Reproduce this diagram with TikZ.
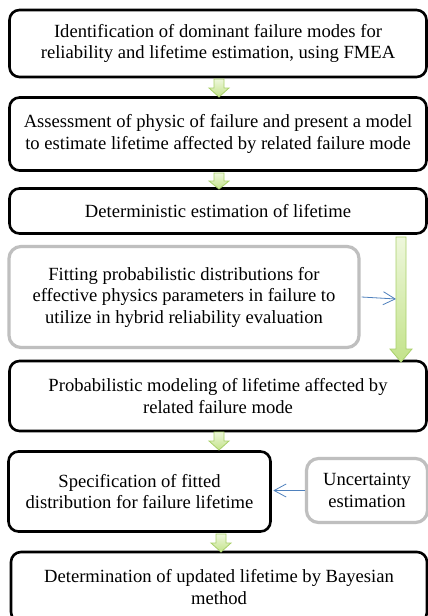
\documentclass[tikz,border=0pt]{standalone}
\usepackage{fontspec}
\setmainfont{Liberation Serif}
\usetikzlibrary{arrows.meta}
\definecolor{gbord}{HTML}{BFBFBF}
\definecolor{barrow}{HTML}{4F81BD}
\definecolor{agreenT}{HTML}{EEF7DC}
\definecolor{agreenB}{HTML}{C3E38A}
\definecolor{agreenD}{HTML}{A9D06A}
\tikzset{
  blk/.style={draw=black, line width=2.6pt, rounded corners=10pt, fill=white, align=center, inner sep=0pt,
    font=\fontsize{18.6}{21.5}\selectfont},
  gry/.style={draw=gbord, line width=3.2pt, rounded corners=12pt, fill=white, align=center, inner sep=0pt,
    font=\fontsize{18.6}{21.5}\selectfont},
  blue/.style={draw=barrow, line width=0.8pt, -{Straight Barb[length=12pt,width=13pt,line width=0.8pt]}},
  garrow/.style={draw=agreenD, line width=0.8pt, top color=agreenT, bottom color=agreenB}
}
% block arrow: #1 x center, #2 top y, #3 tip y, #4 head length
\newcommand{\grarrow}[4]{%
  \path[garrow] (#1-5,#2) -- (#1+5,#2) -- (#1+5,#3-#4) -- (#1+10,#3-#4) -- (#1,#3) -- (#1-10,#3-#4) -- (#1-5,#3-#4) -- cycle;}
\begin{document}
\begin{tikzpicture}[x=1pt,y=-1pt]
\useasboundingbox (0,0) rectangle (428,616);
\fill[white] (0,0) rectangle (428,616);

\node[blk, minimum width=417pt, minimum height=67pt] (b1) at (218,43.5)
  {Identification of dominant failure modes for\\reliability and lifetime estimation, using FMEA};
\node[blk, minimum width=417pt, minimum height=73pt] (b2) at (218,134)
  {Assessment of physic of failure and present a model\\to estimate lifetime affected by related failure mode};
\node[blk, minimum width=417pt, minimum height=45pt] (b3) at (218,211)
  {Deterministic estimation of lifetime};
\node[gry, minimum width=350pt, minimum height=101pt] (b4) at (184,297)
  {Fitting probabilistic distributions for\\effective physics parameters in failure to\\utilize in hybrid reliability evaluation};
\node[blk, minimum width=417pt, minimum height=70pt] (b5) at (218,396)
  {Probabilistic modeling of lifetime affected by\\related failure mode};
\node[blk, minimum width=262pt, minimum height=80pt] (b6) at (139.5,491.5)
  {Specification of fitted\\distribution for failure lifetime};
\node[gry, minimum width=121pt, minimum height=64pt] (b7) at (367,490.5)
  {Uncertainty\\estimation};
\node[blk, minimum width=416pt, minimum height=70pt] (b8) at (219,587)
  {Determination of updated lifetime by Bayesian\\method};

% green block arrows
\grarrow{219}{79}{97}{9}
\grarrow{219}{173}{189}{8}
\grarrow{219}{432}{450}{9}
\grarrow{221}{534}{552}{9}
% long green arrow
\path[garrow] (396,237) -- (406,237) -- (406,349) -- (412,349) -- (401,362) -- (390,349) -- (396,349) -- cycle;
\coordinate (gA) at (396,299);

\draw[blue] (b4.east) ++(1pt,0) -- (gA);
\draw[blue] (b7.west) -- ([xshift=1.5pt]b6.east |- b7.west);
\end{tikzpicture}
\end{document}
